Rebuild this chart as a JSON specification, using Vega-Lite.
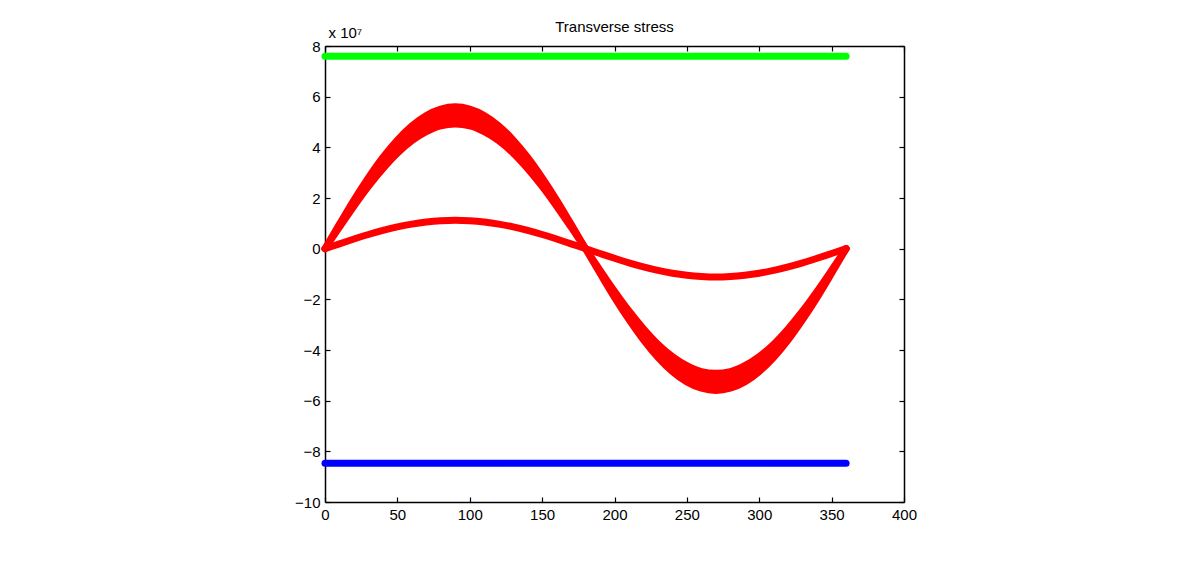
{
  "$schema": "https://vega.github.io/schema/vega-lite/v6.json",
  "width": 579,
  "height": 456,
  "autosize": {"type": "none"},
  "padding": {"left": 325, "top": 46, "right": 298, "bottom": 60},
  "background": "white",
  "title": {"text": "Transverse stress", "font": "Liberation Sans", "fontSize": 15, "fontWeight": "normal", "color": "black", "frame": "group", "offset": -22, "baseline": "alphabetic"},
  "config": {
    "view": {"stroke": null},
    "axis": {"labelFont": "Liberation Sans", "labelFontSize": 15, "labelColor": "black", "domainColor": "black", "tickColor": "black", "domainWidth": 1.5, "tickWidth": 1.2, "grid": false, "titleFont": "Liberation Sans", "titleFontWeight": "normal", "titleColor": "black"}
  },
  "data": {"values": [
    {"deg": 0, "outer": 0, "inner": 0, "small": 0, "upper": 7.6, "lower": -8.47},
    {"deg": 10, "outer": 0.97, "inner": 0.85, "small": 0.19, "upper": 7.6, "lower": -8.47},
    {"deg": 20, "outer": 1.92, "inner": 1.68, "small": 0.38, "upper": 7.6, "lower": -8.47},
    {"deg": 30, "outer": 2.8, "inner": 2.46, "small": 0.56, "upper": 7.6, "lower": -8.47},
    {"deg": 40, "outer": 3.6, "inner": 3.16, "small": 0.72, "upper": 7.6, "lower": -8.47},
    {"deg": 50, "outer": 4.29, "inner": 3.77, "small": 0.86, "upper": 7.6, "lower": -8.47},
    {"deg": 60, "outer": 4.85, "inner": 4.26, "small": 0.97, "upper": 7.6, "lower": -8.47},
    {"deg": 70, "outer": 5.26, "inner": 4.62, "small": 1.05, "upper": 7.6, "lower": -8.47},
    {"deg": 80, "outer": 5.51, "inner": 4.85, "small": 1.1, "upper": 7.6, "lower": -8.47},
    {"deg": 90, "outer": 5.6, "inner": 4.92, "small": 1.12, "upper": 7.6, "lower": -8.47},
    {"deg": 100, "outer": 5.51, "inner": 4.85, "small": 1.1, "upper": 7.6, "lower": -8.47},
    {"deg": 110, "outer": 5.26, "inner": 4.62, "small": 1.05, "upper": 7.6, "lower": -8.47},
    {"deg": 120, "outer": 4.85, "inner": 4.26, "small": 0.97, "upper": 7.6, "lower": -8.47},
    {"deg": 130, "outer": 4.29, "inner": 3.77, "small": 0.86, "upper": 7.6, "lower": -8.47},
    {"deg": 140, "outer": 3.6, "inner": 3.16, "small": 0.72, "upper": 7.6, "lower": -8.47},
    {"deg": 150, "outer": 2.8, "inner": 2.46, "small": 0.56, "upper": 7.6, "lower": -8.47},
    {"deg": 160, "outer": 1.92, "inner": 1.68, "small": 0.38, "upper": 7.6, "lower": -8.47},
    {"deg": 170, "outer": 0.97, "inner": 0.85, "small": 0.19, "upper": 7.6, "lower": -8.47},
    {"deg": 180, "outer": 0, "inner": 0, "small": 0, "upper": 7.6, "lower": -8.47},
    {"deg": 190, "outer": -0.97, "inner": -0.85, "small": -0.19, "upper": 7.6, "lower": -8.47},
    {"deg": 200, "outer": -1.92, "inner": -1.68, "small": -0.38, "upper": 7.6, "lower": -8.47},
    {"deg": 210, "outer": -2.8, "inner": -2.46, "small": -0.56, "upper": 7.6, "lower": -8.47},
    {"deg": 220, "outer": -3.6, "inner": -3.16, "small": -0.72, "upper": 7.6, "lower": -8.47},
    {"deg": 230, "outer": -4.29, "inner": -3.77, "small": -0.86, "upper": 7.6, "lower": -8.47},
    {"deg": 240, "outer": -4.85, "inner": -4.26, "small": -0.97, "upper": 7.6, "lower": -8.47},
    {"deg": 250, "outer": -5.26, "inner": -4.62, "small": -1.05, "upper": 7.6, "lower": -8.47},
    {"deg": 260, "outer": -5.51, "inner": -4.85, "small": -1.1, "upper": 7.6, "lower": -8.47},
    {"deg": 270, "outer": -5.6, "inner": -4.92, "small": -1.12, "upper": 7.6, "lower": -8.47},
    {"deg": 280, "outer": -5.51, "inner": -4.85, "small": -1.1, "upper": 7.6, "lower": -8.47},
    {"deg": 290, "outer": -5.26, "inner": -4.62, "small": -1.05, "upper": 7.6, "lower": -8.47},
    {"deg": 300, "outer": -4.85, "inner": -4.26, "small": -0.97, "upper": 7.6, "lower": -8.47},
    {"deg": 310, "outer": -4.29, "inner": -3.77, "small": -0.86, "upper": 7.6, "lower": -8.47},
    {"deg": 320, "outer": -3.6, "inner": -3.16, "small": -0.72, "upper": 7.6, "lower": -8.47},
    {"deg": 330, "outer": -2.8, "inner": -2.46, "small": -0.56, "upper": 7.6, "lower": -8.47},
    {"deg": 340, "outer": -1.92, "inner": -1.68, "small": -0.38, "upper": 7.6, "lower": -8.47},
    {"deg": 350, "outer": -0.97, "inner": -0.85, "small": -0.19, "upper": 7.6, "lower": -8.47},
    {"deg": 360, "outer": 0, "inner": 0, "small": 0, "upper": 7.6, "lower": -8.47}
  ]},
  "resolve": {"axis": {"x": "independent", "y": "independent"}},
  "layer": [
    {
      "mark": {"type": "area", "color": "#ff0000", "interpolate": "monotone"},
      "encoding": {
        "x": {"field": "deg", "type": "quantitative", "scale": {"domain": [0, 400], "nice": false, "zero": false},
              "axis": {"orient": "bottom", "values": [0, 50, 100, 150, 200, 250, 300, 350, 400], "tickSize": -5, "labelPadding": 10, "title": null, "labelFlush": false}},
        "y": {"field": "outer", "type": "quantitative", "scale": {"domain": [-10, 8], "nice": false, "zero": false},
              "axis": {"orient": "left", "values": [-10, -8, -6, -4, -2, 0, 2, 4, 6, 8], "tickSize": -5, "labelPadding": 10, "labelFlush": false, "title": "x 10⁷", "titleAngle": 0, "titleAlign": "left", "titleBaseline": "bottom", "titleX": 3, "titleY": -6, "titleFontSize": 15}},
        "y2": {"field": "inner"}
      }
    },
    {
      "mark": {"type": "line", "color": "#ff0000", "strokeWidth": 7, "strokeCap": "round", "strokeJoin": "round", "interpolate": "monotone"},
      "encoding": {"x": {"field": "deg", "type": "quantitative", "axis": null}, "y": {"field": "outer", "type": "quantitative", "axis": null}}
    },
    {
      "mark": {"type": "line", "color": "#ff0000", "strokeWidth": 7, "strokeCap": "round", "strokeJoin": "round", "interpolate": "monotone"},
      "encoding": {"x": {"field": "deg", "type": "quantitative", "axis": null}, "y": {"field": "inner", "type": "quantitative", "axis": null}}
    },
    {
      "mark": {"type": "line", "color": "#ff0000", "strokeWidth": 7, "strokeCap": "round", "strokeJoin": "round", "interpolate": "monotone"},
      "encoding": {"x": {"field": "deg", "type": "quantitative", "axis": null}, "y": {"field": "small", "type": "quantitative", "axis": null}}
    },
    {
      "mark": {"type": "line", "color": "#0000ff", "strokeWidth": 7, "strokeCap": "round"},
      "encoding": {"x": {"field": "deg", "type": "quantitative", "axis": null}, "y": {"field": "lower", "type": "quantitative", "axis": null}}
    },
    {
      "mark": {"type": "line", "color": "#00ff00", "strokeWidth": 7, "strokeCap": "round"},
      "encoding": {
        "x": {"field": "deg", "type": "quantitative", "axis": {"orient": "top", "values": [0, 50, 100, 150, 200, 250, 300, 350, 400], "tickSize": -5, "labels": false, "title": null}},
        "y": {"field": "upper", "type": "quantitative", "axis": {"orient": "right", "values": [-10, -8, -6, -4, -2, 0, 2, 4, 6, 8], "tickSize": -5, "labels": false, "title": null}}
      }
    }
  ]
}
